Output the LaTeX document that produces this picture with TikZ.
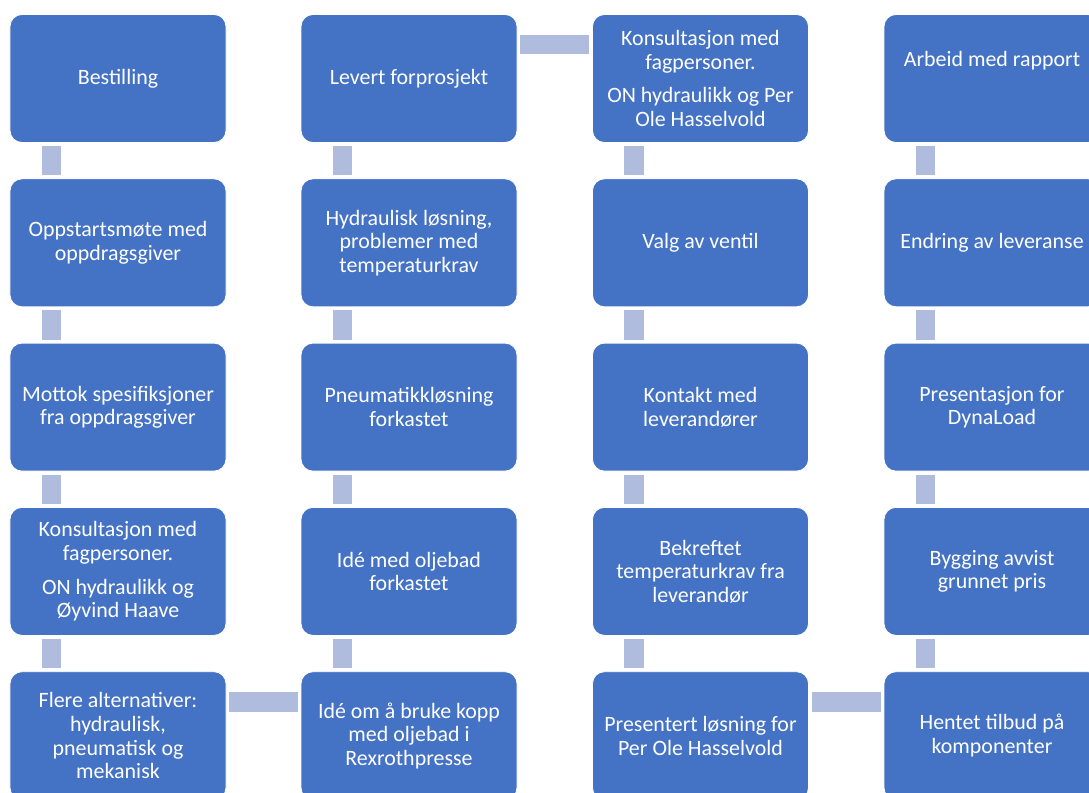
\documentclass[tikz,border=0pt]{standalone}
\usepackage{fontspec}
\setmainfont{Carlito}
\definecolor{boxblue}{HTML}{4472C4}
\definecolor{barblue}{HTML}{B0BCDE}
\tikzset{
  stepbox/.style={draw=white, line width=0.8bp, fill=boxblue, rounded corners=12bp,
    minimum width=216bp, minimum height=128bp, inner sep=2bp, align=center,
    text=white, font=\fontsize{22}{23.7}\selectfont},
  vbar/.style={draw=barblue, line width=19.5bp, line cap=butt},
  hbar/.style={draw=barblue, line width=19.5bp, line cap=butt}
}
\begin{document}
\begin{tikzpicture}[x=1bp,y=-1bp]
\useasboundingbox (0,0) rectangle (1089,793);
\clip (0,0) rectangle (1089,793);
% column centres: 118, 409, 700.5, 992 ; row centres: 78.5, 242.8, 407.1, 571.4, 735.7
\node[stepbox] (a1) at (118,78.5) {Bestilling};
\node[stepbox] (a2) at (118,242.8) {Oppstartsmøte med\\oppdragsgiver};
\node[stepbox] (a3) at (118,407.1) {Mottok spesifiksjoner\\fra oppdragsgiver};
\node[stepbox] (a4) at (118,571.4) {Konsultasjon med\\fagpersoner.\\[10bp]ON hydraulikk og\\Øyvind Haave};
\node[stepbox] (a5) at (118,735.7) {Flere alternativer:\\hydraulisk,\\pneumatisk og\\mekanisk};

\node[stepbox] (b1) at (409,78.5) {Levert forprosjekt};
\node[stepbox] (b2) at (409,242.8) {Hydraulisk løsning,\\problemer med\\temperaturkrav};
\node[stepbox] (b3) at (409,407.1) {Pneumatikkløsning\\forkastet};
\node[stepbox] (b4) at (409,571.4) {Idé med oljebad\\forkastet};
\node[stepbox] (b5) at (409,735.7) {Idé om å bruke kopp\\med oljebad i\\Rexrothpresse};

\node[stepbox] (c1) at (700.5,78.5) {Konsultasjon med\\fagpersoner.\\[10bp]ON hydraulikk og Per\\Ole Hasselvold};
\node[stepbox] (c2) at (700.5,242.8) {Valg av ventil};
\node[stepbox] (c3) at (700.5,407.1) {Kontakt med\\leverandører};
\node[stepbox] (c4) at (700.5,571.4) {Bekreftet\\temperaturkrav fra\\leverandør};
\node[stepbox] (c5) at (700.5,735.7) {Presentert løsning for\\Per Ole Hasselvold};

\node[stepbox, text depth=40bp] (d1) at (992,78.5) {Arbeid med rapport};
\node[stepbox] (d2) at (992,242.8) {Endring av leveranse};
\node[stepbox] (d3) at (992,407.1) {Presentasjon for\\DynaLoad};
\node[stepbox] (d4) at (992,571.4) {Bygging avvist\\grunnet pris};
\node[stepbox] (d5) at (992,735.7) {Hentet tilbud på\\komponenter};

% vertical connectors
\foreach \c in {a,b,c,d}{
  \foreach \r/\s in {1/2,2/3,3/4,4/5}{
    \draw[vbar] ([xshift=42bp,yshift=-3bp]\c\r.south west) -- ([xshift=42bp,yshift=3bp]\c\s.north west);
  }
}
% horizontal connectors
\draw[hbar] ([xshift=3bp,yshift=-30.5bp]a5.north east) -- ([xshift=-3bp,yshift=-30.5bp]b5.north west);
\draw[hbar] ([xshift=3bp,yshift=-30.5bp]b1.north east) -- ([xshift=-3bp,yshift=-30.5bp]c1.north west);
\draw[hbar] ([xshift=3bp,yshift=-30.5bp]c5.north east) -- ([xshift=-3bp,yshift=-30.5bp]d5.north west);
\end{tikzpicture}
\end{document}
